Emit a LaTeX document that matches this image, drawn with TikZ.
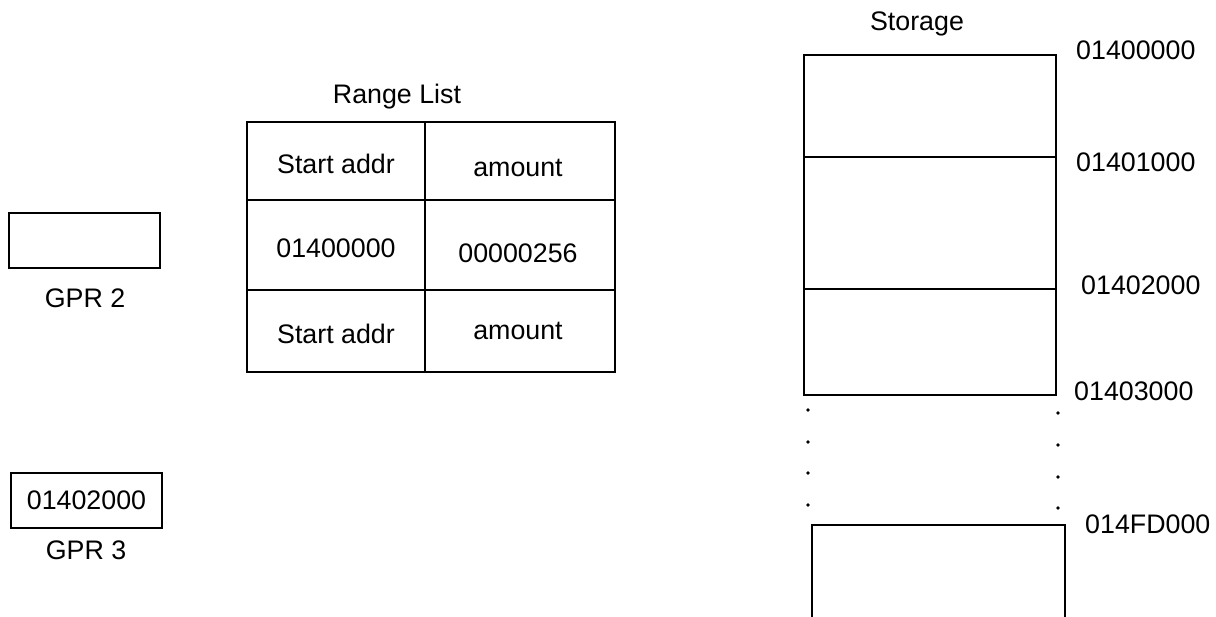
\documentclass[tikz,border=0pt]{standalone}
\usepackage{fontspec}
\setmainfont{Liberation Sans}
\begin{document}
\begin{tikzpicture}[x=1pt,y=-1pt,
  lbl/.style={font=\fontsize{26.8}{30}\selectfont, inner sep=0pt},
  box/.style={draw, line width=2.9pt},
  dotm/.style={fill, circle, inner sep=0pt, minimum size=3.6pt}]
\useasboundingbox (0,0) rectangle (1216,617);
% GPR 2
\draw[box] (9,213) rectangle (160,268);
\node[lbl] (g2) at (85,298) {GPR 2};
% GPR 3
\node[box, minimum width=151pt, minimum height=55pt, inner sep=0pt] (g3box) at (86.5,500.5) {};
\node[lbl] (g3val) at (g3box.center) {01402000};
\node[lbl] (g3) at (86,550) {GPR 3};
% Range list table
\node[lbl] (rl) at (397,97) {Range List};
\draw[box] (247,122) rectangle (615,372);
\draw[box] (425,122) -- (425,372);
\draw[box] (247,200) -- (615,200);
\draw[box] (247,290) -- (615,290);
\node[lbl] (c11) at (336,164) {Start addr};
\node[lbl] (c12) at (518,168) {amount};
\node[lbl] (c21) at (336,248) {01400000};
\node[lbl] (c22) at (518,253) {00000256};
\node[lbl] (c31) at (336,334) {Start addr};
\node[lbl] (c32) at (518,331) {amount};
% Storage
\node[lbl] (st) at (917,24) {Storage};
\draw[box] (804,55) rectangle (1056,395);
\draw[box] (804,157) -- (1056,157);
\draw[box] (804,289) -- (1056,289);
\node[lbl, anchor=west] (a0) at (1076,50) {01400000};
\node[lbl, anchor=west] (a1) at (1076,162) {01401000};
\node[lbl, anchor=west] (a2) at (1081,285) {01402000};
\node[lbl, anchor=west] (a3) at (1074,391) {01403000};
\node[lbl, anchor=west] (a4) at (1085,524) {014FD000};
% dots
\foreach \y/\n in {410/1,442/2,473/3,505/4}{\node[dotm] (dl\n) at (808,\y) {};}
\foreach \y/\n in {413/1,445/2,477/3,508/4}{\node[dotm] (dr\n) at (1058,\y) {};}
% bottom box (open at bottom)
\draw[box] (812,620) -- (812,525) -- (1065,525) -- (1065,620);
\end{tikzpicture}
\end{document}
